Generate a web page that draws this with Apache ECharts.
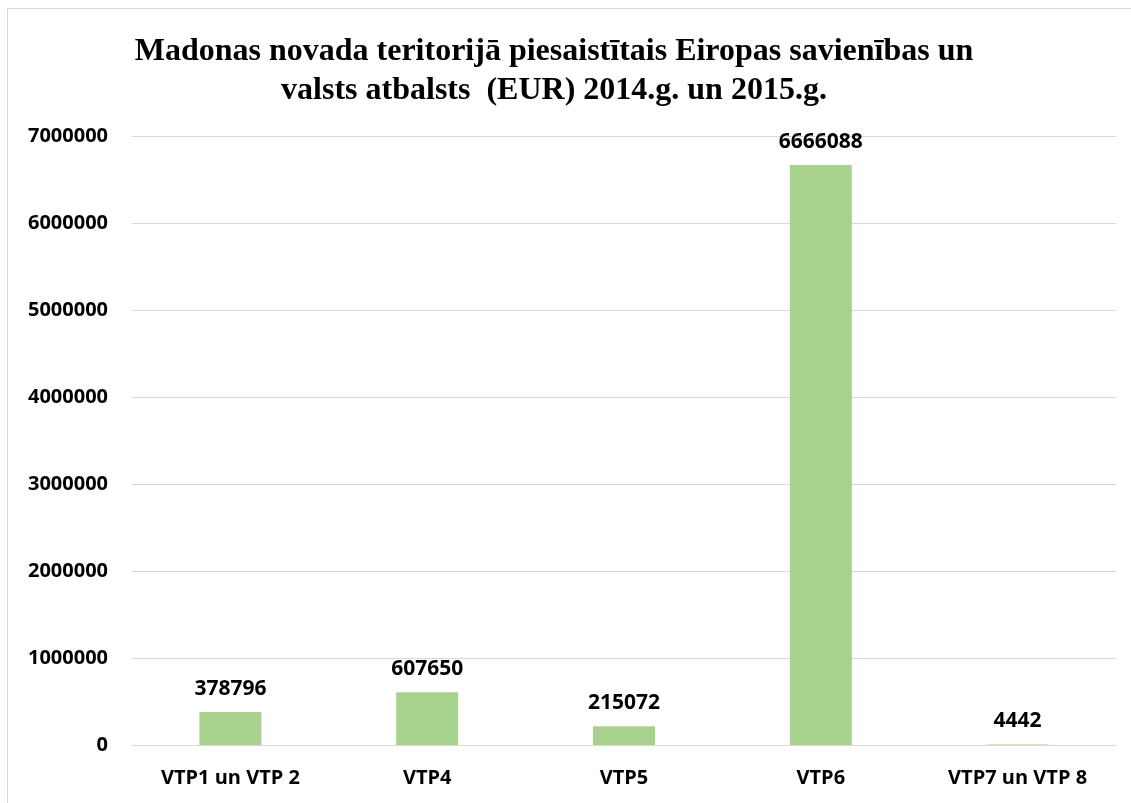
<!DOCTYPE html>
<html>
<head>
<meta charset="utf-8">
<script src="https://cdn.jsdelivr.net/npm/echarts@6/dist/echarts.min.js"></script>
<style>
  html, body { margin: 0; padding: 0; background: #fff; overflow: hidden; }
  #frame {
    position: absolute; left: 7px; top: 8px; width: 1140px; height: 810px;
    border: 1px solid #d9d9d9; box-sizing: border-box;
  }
  #mychart { position: absolute; left: 0; top: 0; width: 1131px; height: 803px; }
</style>
</head>
<body>
<div id="frame"></div>
<div id="mychart"></div>
<script>
const categories = ['VTP1 un VTP 2', 'VTP4', 'VTP5', 'VTP6', 'VTP7 un VTP 8']
const values = [378796, 607650, 215072, 6666088, 4442]
const yTicks = [0, 1000000, 2000000, 3000000, 4000000, 5000000, 6000000, 7000000]

const labelFont = '"Open Sans", Lato, sans-serif'

const option = {
  animation: false,
  title: {
    text: 'Madonas novada teritorijā piesaistītais Eiropas savienības un\nvalsts atbalsts  (EUR) 2014.g. un 2015.g.',
    left: 549,
    top: 27,
    textAlign: 'center',
    textStyle: {
      fontFamily: '"Liberation Serif", "Times New Roman", serif',
      fontWeight: 'bold',
      fontSize: 32,
      lineHeight: 39,
      color: '#000'
    }
  },
  grid: { left: 132, right: 15, top: 136, bottom: 58 },
  xAxis: {
    type: 'category',
    data: categories,
    axisLine: { lineStyle: { color: '#d9d9d9' } },
    axisTick: { show: false },
    axisLabel: {
      margin: 23,
      color: '#000',
      fontFamily: labelFont,
      fontWeight: 'bold',
      fontSize: 20
    }
  },
  yAxis: {
    type: 'value',
    min: yTicks[0],
    max: yTicks[yTicks.length - 1],
    interval: yTicks[1] - yTicks[0],
    axisLine: { show: false },
    axisTick: { show: false },
    splitLine: { lineStyle: { color: '#d9d9d9', width: 1 } },
    axisLabel: {
      margin: 24,
      color: '#000',
      fontFamily: labelFont,
      fontWeight: 'bold',
      fontSize: 20,
      formatter: function(v) { return String(v) }
    }
  },
  series: [
    {
      type: 'bar',
      data: values,
      barWidth: 62,
      itemStyle: { color: '#a9d18e' },
      label: {
        show: true,
        position: 'top',
        distance: 13,
        color: '#000',
        fontFamily: labelFont,
        fontWeight: 'bold',
        fontSize: 21
      }
    }
  ]
}

const myChart = echarts.init(document.getElementById('mychart'))
myChart.setOption(option)
</script>
</body>
</html>
